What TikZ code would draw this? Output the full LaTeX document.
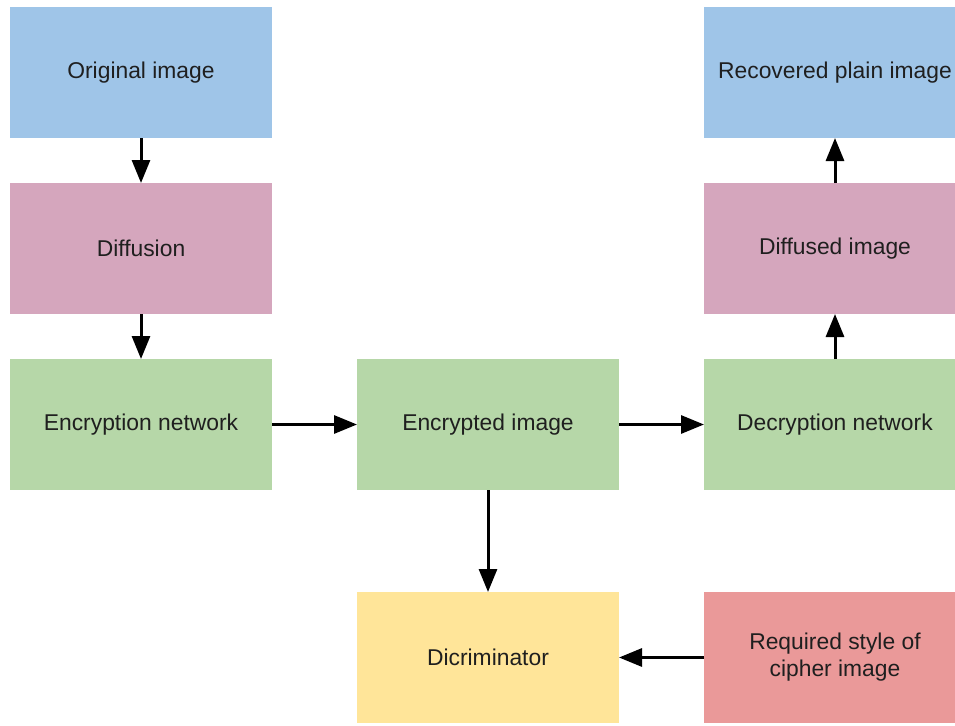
\documentclass[tikz,border=0pt]{standalone}
\usepackage{fontspec}
\setmainfont{Liberation Sans}
\usetikzlibrary{positioning,arrows.meta}
\definecolor{boxblue}{HTML}{9FC5E8}
\definecolor{boxpink}{HTML}{D5A6BD}
\definecolor{boxgreen}{HTML}{B6D7A8}
\definecolor{boxyellow}{HTML}{FFE599}
\definecolor{boxred}{HTML}{EA9999}
\tikzstyle{box} = [rectangle, minimum width=5.24cm, minimum height=2.62cm, inner sep=0pt, outer sep=0pt, align=center, text=black!88, font=\fontsize{13}{15.4}\selectfont]
\tikzstyle{arrow} = [line width=0.06cm,-{Triangle[length=0.46cm,width=0.36cm]},black]

\begin{document}
\begin{tikzpicture}[node distance=0.9cm and 1.7cm]
\clip (0,0) rectangle (19.1,-14.52);
\fill[white] (0,0) rectangle (19.1,-14.52);
% left column
\node[box, fill=boxblue] (orig) at (2.82,-1.45) {Original image};
\node[box, fill=boxpink, below=of orig] (diff) {Diffusion};
\node[box, fill=boxgreen, below=of diff] (encnet) {Encryption network};
% middle and right
\node[box, fill=boxgreen, right=of encnet] (encimg) {Encrypted image};
\node[box, fill=boxgreen, right=of encimg] (decnet) {Decryption network};
\node[box, fill=boxpink, above=of decnet] (diffimg) {Diffused image};
\node[box, fill=boxblue, above=of diffimg] (recov) {Recovered plain image};
% bottom row
\node[box, fill=boxyellow, below=2.04cm of encimg] (disc) {Dicriminator};
\node[box, fill=boxred, right=of disc] (style) {Required style of\\cipher image};
\draw[arrow] (orig) -- (diff);
\draw[arrow] (diff) -- (encnet);
\draw[arrow] (encnet) -- (encimg);
\draw[arrow] (encimg) -- (decnet);
\draw[arrow] (decnet) -- (diffimg);
\draw[arrow] (diffimg) -- (recov);
\draw[arrow] (encimg) -- (disc);
\draw[arrow] (style) -- (disc);
\end{tikzpicture}
\end{document}
